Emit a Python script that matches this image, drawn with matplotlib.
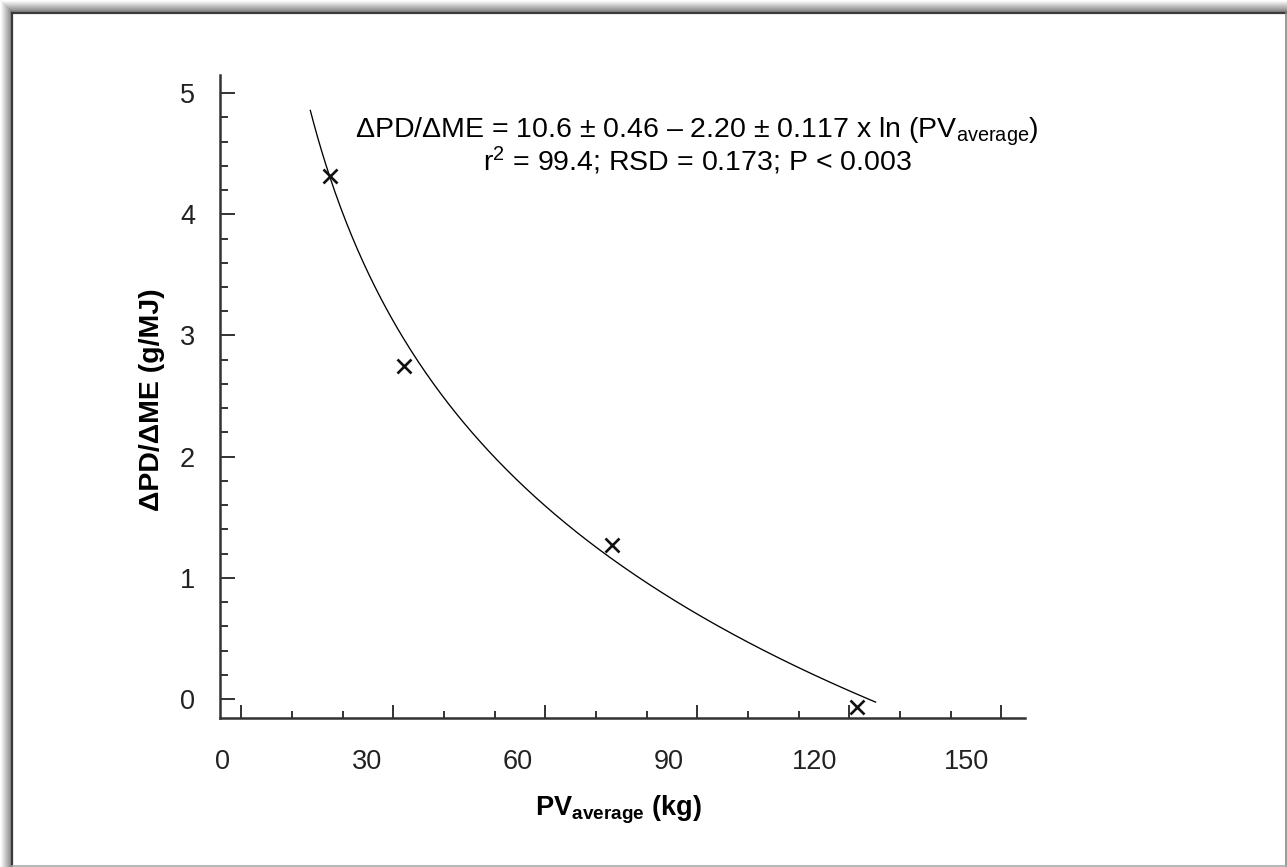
import numpy as np
import matplotlib
matplotlib.use("Agg")
import matplotlib.pyplot as plt

plt.rcParams['font.family'] = ['Liberation Sans', 'DejaVu Sans']
plt.rcParams['mathtext.fontset'] = 'custom'
plt.rcParams['mathtext.rm'] = 'Liberation Sans'
plt.rcParams['mathtext.it'] = 'Liberation Sans'
plt.rcParams['mathtext.bf'] = 'Liberation Sans:bold'

# data
pv = [17.5, 32.1, 73.2, 121.5]
pd_me = [4.32, 2.75, 1.27, -0.064]
# regression given in the chart: y = a - b*ln(PV)
fit_a = 10.6
fit_b = 2.20
fit_range = (13.6, 125.2)

xticks = [0, 30, 60, 90, 120, 150]
xtick_labels = ['0', '30', '60', '90', '120', '150']
xlabel_nudge = [-3.8, -5.2, -5.4, -5.6, -6.8, -6.8]   # labels sit left of their ticks
yticks = [0, 1, 2, 3, 4, 5]

W, H = 1287, 867
fig = plt.figure(figsize=(W / 100, H / 100), dpi=100)

# frame with drop shadow
bg = fig.add_axes([0, 0, 1, 1])
bg.set_xlim(0, W)
bg.set_ylim(H, 0)
bg.axis('off')
for i in range(12):
    g = 0.97 - 0.045 * i
    bg.plot([i + 0.5, i + 0.5], [i, H], color=str(g), lw=0.75, solid_capstyle='butt')
    bg.plot([i, W], [i + 0.5, i + 0.5], color=str(g), lw=0.75, solid_capstyle='butt')
bg.plot([11.5, 11.5], [12.5, H], color='#3a3a3a', lw=1.6)
bg.plot([11.5, W], [12.5, 12.5], color='#3a3a3a', lw=1.6)
bg.plot([W - 1, W - 1], [12.5, H], color='#888888', lw=1.2)
bg.plot([11.5, W], [H - 1, H - 1], color='#aaaaaa', lw=1.2)

ax = fig.add_axes([220 / W, 1 - 718 / H, 805 / W, 643 / H])
ax.set_zorder(2)
ax.patch.set_alpha(0)
ax.set_xlim(-4.23, 154.7)
ax.set_ylim(-0.157, 5.15)

xs = np.linspace(fit_range[0], fit_range[1], 300)
ax.plot(xs, fit_a - fit_b * np.log(xs), color='black', lw=0.95)
ax.plot(pv, pd_me, ls='none', marker='x', color='#111111', ms=9.5, mew=1.9)

for s in ['top', 'right']:
    ax.spines[s].set_visible(False)
for s in ['left', 'bottom']:
    ax.spines[s].set_linewidth(1.8)
    ax.spines[s].set_color('#333333')

ax.set_xticks(xticks)
ax.set_xticks([t for t in range(0, 151, 10) if t % 30], minor=True)
ax.set_xticklabels([])
ax.set_yticks(yticks)
ax.set_yticks(np.arange(0, 5.01, 0.2), minor=True)
ax.set_yticklabels([str(t) for t in yticks])
ax.tick_params(axis='x', which='major', direction='in', length=9.5, width=1.4, color='#333333')
ax.tick_params(axis='x', which='minor', direction='in', length=5, width=1.4, color='#333333')
ax.tick_params(axis='y', which='major', direction='in', length=11, width=1.4, color='#333333',
               labelsize=19.5, pad=18, labelcolor='#222222')
ax.tick_params(axis='y', which='minor', direction='in', length=6, width=1.4, color='#333333')

sec = ax.secondary_xaxis('bottom')
sec.set_xticks([t + d for t, d in zip(xticks, xlabel_nudge)], labels=xtick_labels)
sec.tick_params(length=0, labelsize=19.5, pad=22, labelcolor='#222222')
sec.spines['bottom'].set_visible(False)

fig.text(152 / W, 1 - 400 / H, 'ΔPD/ΔME (g/MJ)', rotation=90, ha='center', va='center',
         fontsize=20.5, fontweight='bold')
fig.text(618 / W, 1 - 815 / H, r'$\mathbf{PV_{average}}$ (kg)', ha='center', va='baseline',
         fontsize=19.5, fontweight='bold')

fig.text(697 / W, 1 - 137 / H,
         'ΔPD/ΔME = 10.6 ± 0.46 – 2.20 ± 0.117 x ln (PV$_{\\mathrm{average}}$)',
         ha='center', va='baseline', fontsize=20.5)
fig.text(697 / W, 1 - 171 / H, 'r$^{2}$ = 99.4; RSD = 0.173; P < 0.003',
         ha='center', va='baseline', fontsize=20.5)

fig.savefig('out.png', dpi=100)
